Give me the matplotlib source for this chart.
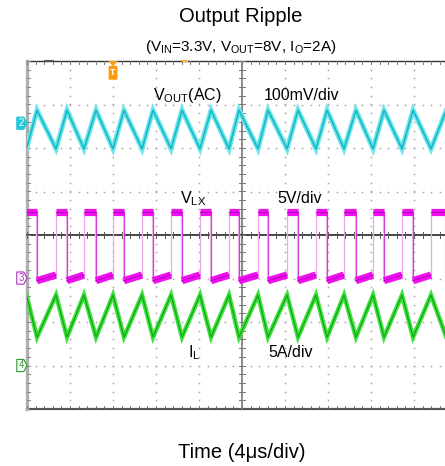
import numpy as np
import matplotlib
matplotlib.use("Agg")
import matplotlib.pyplot as plt
from matplotlib.patches import Polygon, FancyBboxPatch

plt.rcParams['font.family'] = ['Liberation Sans', 'DejaVu Sans']
plt.rcParams['mathtext.fontset'] = 'custom'
plt.rcParams['mathtext.rm'] = 'Liberation Sans'

# switching edges of V_LX (time in us, 4 us/div)
t_rise = [-0.05, 2.70, 5.30, 8.00, 10.70, 13.40, 16.09, 18.79, 21.49, 24.19,
          26.88, 29.49, 32.19, 34.88, 37.58]          # low -> high
t_fall = [0.93, 3.72, 6.42, 9.02, 11.72, 14.42, 17.12, 19.72, 22.42, 25.21,
          27.91, 30.60, 33.21, 35.91, 39.00]          # high -> low

# trace levels in screen divisions (0 = centre line)
vout_peak, vout_trough = 2.87, 1.98
vlx_high = 0.53
vlx_low_start, vlx_low_end = -1.05, -0.92
il_peak, il_trough = -1.38, -2.35

# channel ground markers (divisions)
ch_marks = [('2', 2.57, '#22c8d8', True),
            ('3', -0.99, '#b030c0', False),
            ('4', -3.0, '#2a9a2a', False)]

fig = plt.figure(figsize=(4.45, 4.66), dpi=100)
W, H = 445, 466
ax = fig.add_axes([27 / W, (H - 409) / H, 430 / W, 348 / H])
ax.set_xlim(0, 40)
ax.set_ylim(-4, 4)
ax.axis('off')

# graticule dots
minor_x = np.arange(0, 40.01, 0.8)
minor_y = np.arange(-4, 4.01, 0.2)
for gx in np.arange(4, 40, 4):
    if gx == 20:
        continue
    ax.plot([gx] * len(minor_y), minor_y, ls='none', marker='s', ms=1.1,
            color='#a8a8a8', mec='none', zorder=1)
for gy in np.arange(-3, 4, 1):
    if gy == 0:
        continue
    ax.plot(minor_x, [gy] * len(minor_x), ls='none', marker='s', ms=1.1,
            color='#a8a8a8', mec='none', zorder=1)

# frame and centre crosshair
ax.plot([0, 40], [4, 4], color='#333333', lw=1.0, zorder=2, clip_on=False)
ax.plot([0, 40], [-4, -4], color='#555555', lw=1.6, zorder=2, clip_on=False)
ax.plot([0, 0], [-4, 4], color='#b0b0b0', lw=2.4, zorder=2, clip_on=False)
ax.plot([20, 20], [-4, 4], color='#8a8a8a', lw=1.4, zorder=2)
ax.plot([0, 40], [0, 0], color='#111111', lw=1.1, zorder=2, clip_on=False)

tx = np.arange(0, 40.01, 0.8)
ty = np.arange(-4, 4.01, 0.2)
for x in tx:
    ax.plot([x, x], [4, 3.93], color='#777777', lw=0.7, zorder=2)
    ax.plot([x, x], [-4, -3.93], color='#777777', lw=0.7, zorder=2)
    ax.plot([x, x], [-0.06, 0.06], color='#555555', lw=0.7, zorder=2)
for y in ty:
    ax.plot([0, 0.28], [y, y], color='#888888', lw=0.7, zorder=2)
    ax.plot([19.75, 20.25], [y, y], color='#777777', lw=0.7, zorder=2)

# V_OUT ripple (cyan)
pts = sorted([(t, vout_trough) for t in t_rise] + [(t, vout_peak) for t in t_fall])
vx = [p[0] for p in pts]
vy = [p[1] for p in pts]
ax.plot(vx, vy, color='#6ee6ec', lw=3.6, solid_joinstyle='miter', zorder=4)
ax.plot(vx, vy, color='#18b8c4', lw=1.2, zorder=5)

# V_LX switching node (magenta)
for i in range(len(t_rise)):
    r, f = t_rise[i], t_fall[i]
    ax.plot([r, r], [vlx_low_end, vlx_high], color='#eaa8ea', lw=0.9, zorder=3)
    ax.plot([f - 0.12, f - 0.12], [vlx_low_start, vlx_high], color='#f0c0f0', lw=0.9, zorder=3)
    ax.plot([f, f], [vlx_low_start, vlx_high], color='#d040d8', lw=0.9, zorder=3)
    ax.plot([r, f], [vlx_high, vlx_high], color='#ee10ee', lw=5.2,
            solid_capstyle='butt', zorder=4)
    ax.plot([r, f], [vlx_high, vlx_high], color='#c000c8', lw=0.8, zorder=5)
    if i + 1 < len(t_rise):
        nr = t_rise[i + 1]
        ax.plot([f, nr], [vlx_low_start, vlx_low_end], color='#ee10ee', lw=5.2,
                solid_capstyle='butt', zorder=4)
        ax.plot([f, nr], [vlx_low_start, vlx_low_end], color='#c000c8', lw=0.8, zorder=5)
    else:
        ax.plot([f, 40], [vlx_low_start, vlx_low_start], color='#ee10ee', lw=5.2,
                solid_capstyle='butt', zorder=4)

# inductor current (green)
pts = sorted([(t, il_peak) for t in t_rise] + [(t, il_trough) for t in t_fall])
ix = [p[0] for p in pts]
iy = [p[1] for p in pts]
ax.plot(ix, iy, color='#3ee03e', lw=3.2, solid_joinstyle='miter', zorder=4)
ax.plot(ix, iy, color='#14a814', lw=0.9, zorder=5)

# channel markers
for label, y, col, filled in ch_marks:
    poly = Polygon([(-0.95, y + 0.14), (-0.3, y + 0.14), (0, y),
                    (-0.3, y - 0.14), (-0.95, y - 0.14)], closed=True,
                   facecolor=col if filled else 'white', edgecolor=col,
                   lw=0.8, clip_on=False, zorder=6)
    ax.add_patch(poly)
    ax.text(-0.55, y, label, color='white' if filled else col, fontsize=7,
            ha='center', va='center', clip_on=False, zorder=7)

# trigger marker
ax.add_patch(Polygon([(7.55, 4.0), (8.45, 4.0), (8.0, 3.88)], closed=True,
                     facecolor='#ff9a10', edgecolor='none', clip_on=False, zorder=6))
ax.add_patch(FancyBboxPatch((7.62, 3.6), 0.76, 0.26, boxstyle='round,pad=0.03',
                            facecolor='#ff9a10', edgecolor='none', zorder=6))
ax.text(8.0, 3.73, 'T', color='white', fontsize=6.5, ha='center', va='center',
        fontweight='bold', zorder=7)
ax.plot([14.5, 14.9], [4.01, 4.01], color='#ffb040', lw=1.5, clip_on=False, zorder=6)
ax.plot([1.7, 2.4], [4.01, 4.01], color='#555555', lw=1.5, clip_on=False, zorder=6)

# channel labels
lbl = 11.5
ax.text(11.72, 3.10, r'V$_{\mathregular{OUT}}$(AC)', fontsize=lbl, va='baseline', zorder=8)
ax.text(22.05, 3.10, '100mV/div', fontsize=lbl, va='baseline', zorder=8)
ax.text(14.23, 0.74, r'V$_{\mathregular{LX}}$', fontsize=lbl, va='baseline', zorder=8)
ax.text(23.26, 0.74, '5V/div', fontsize=lbl, va='baseline', zorder=8)
ax.text(14.98, -2.80, r'I$_{\mathregular{L}}$', fontsize=lbl, va='baseline', zorder=8)
ax.text(22.42, -2.80, '5A/div', fontsize=lbl, va='baseline', zorder=8)

fig.text(241 / W, 1 - 16 / H, 'Output Ripple', fontsize=14.5, ha='center', va='center')
fig.text(240.5 / W, 1 - 47 / H,
         r'(V$_{\mathregular{IN}}$=3.3V, V$_{\mathregular{OUT}}$=8V, I$_{\mathregular{O}}$=2A)',
         fontsize=11, ha='center', va='center')
fig.text(241.5 / W, 1 - 452 / H, 'Time (4\u03bcs/div)', fontsize=14.5,
         ha='center', va='center')

fig.savefig('out.png', dpi=100)
